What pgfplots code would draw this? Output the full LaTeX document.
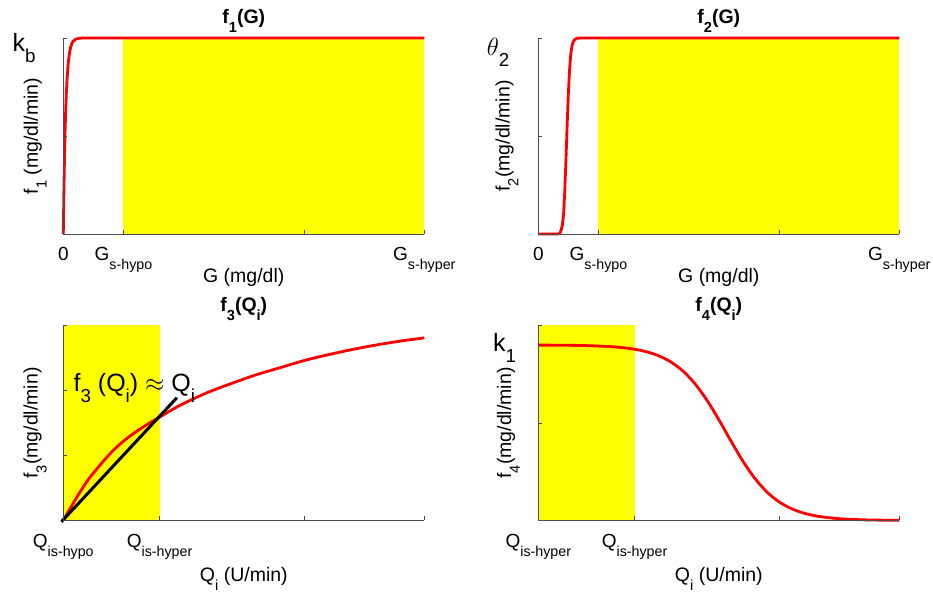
\documentclass[border=0pt]{standalone}
\usepackage{fontspec}
\setmainfont{Liberation Sans}
\usepackage{graphicx}
\usepackage{pgfplots}
\pgfplotsset{compat=1.18}
\definecolor{myyellow}{RGB}{255,255,0}
\definecolor{myred}{RGB}{255,0,0}
\newcommand\sub[1]{\raisebox{-0.45em}{\scalebox{0.75}{#1}}}
\newcommand\tickfont{\fontsize{19}{21}\selectfont}
\newcommand\labfont{\fontsize{19.5}{22}\selectfont}
\newcommand\titfont{\fontsize{19.5}{22}\selectfont\bfseries}
\newcommand\bigfont{\fontsize{25}{29}\selectfont}
\pgfplotsset{
  myax/.style={
    scale only axis, width=361pt, height=195pt,
    axis x line=bottom, axis y line=left,
    axis line style={-, draw=black!70, line width=0.7pt},
    tick align=inside, major tick length=4pt,
    tick style={draw=black!70, line width=0.7pt},
    clip=false, axis on top,
    xticklabel style={font=\tickfont, anchor=base, yshift=-27pt},
    yticklabels={,,,},
    xlabel style={font=\labfont, anchor=base},
    ylabel style={font=\labfont, anchor=center},
    title style={font=\titfont, at={(axis description cs:0.5,1)}, anchor=base, yshift=8pt},
  },
  redc/.style={myred, line width=2.8pt, line join=round},
  yel/.style={fill=myyellow, draw=none},
}
\begin{document}
\begin{tikzpicture}
\path[use as bounding box] (0pt,0pt) rectangle (933pt,596pt);
% f1
\begin{axis}[myax, at={(63.3pt,362pt)}, anchor=south west, height=196pt,
  xmin=0, xmax=300, ymin=0, ymax=1,
  xtick={0,50,200,300}, xticklabels={0,G\sub{s-hypo},,G\sub{s-hyper}},
  ytick={0,0.5,1},
  title={f\sub{1}(G)},
  xlabel={G (mg/dl)}, xlabel style={at={(axis description cs:0.5,-0.248)}},
  ylabel={f\sub{1} (mg/dl/min)}, ylabel style={at={(axis description cs:-0.078,0.5)}},
]
\addplot[yel] coordinates {(50,1) (300,1)} \closedcycle;
\addplot[redc] coordinates {(0,0)(0.5,0.221)(1,0.393)(1.5,0.528)(2,0.632)(2.5,0.713)(3,0.777)(4,0.865)(5,0.918)(6,0.950)(7,0.970)(8,0.982)(10,0.993)(12,0.9975)(15,0.9994)(20,1)(300,1)};
\node[anchor=base west, font=\bigfont, inner sep=0pt] at (axis description cs:-0.141,0.930) {k\sub{b}};
\end{axis}
% f2
\begin{axis}[myax, at={(538.3pt,362pt)}, anchor=south west, height=196pt,
  xmin=0, xmax=300, ymin=0, ymax=1,
  xtick={0,50,200,300}, xticklabels={0,G\sub{s-hypo},,G\sub{s-hyper}},
  ytick={0,0.5,1},
  title={f\sub{2}(G)},
  xlabel={G (mg/dl)}, xlabel style={at={(axis description cs:0.5,-0.248)}},
  ylabel={f\sub{2}(mg/dl/min)}, ylabel style={at={(axis description cs:-0.087,0.5)}},
]
\addplot[yel] coordinates {(50,1) (300,1)} \closedcycle;
\addplot[redc] coordinates {(0,0)(16,0)(17,0.001)(18,0.005)(19,0.02)(20,0.045)(21,0.1)(22,0.22)(23,0.38)(24,0.56)(25,0.72)(26,0.84)(27,0.92)(28,0.96)(29,0.98)(30,0.99)(32,0.998)(35,1)(300,1)};
\node[anchor=base west, font=\bigfont, inner sep=0pt] at (axis description cs:-0.143,0.913) {$\theta$\sub{2}};
\end{axis}
% f3
\begin{axis}[myax, at={(63.3pt,75.5pt)}, anchor=south west,
  xmin=0, xmax=15, ymin=0, ymax=3,
  xtick={0,4,10,15}, xticklabels={Q\sub{is-hypo},Q\sub{is-hyper},,},
  ytick={0,1,2,3},
  title={f\sub{3}(Q\sub{i})},
  xlabel={Q\sub{i} (U/min)}, xlabel style={at={(axis description cs:0.5,-0.314)}},
  ylabel={f\sub{3}(mg/dl/min)}, ylabel style={at={(axis description cs:-0.078,0.5)}},
]
\addplot[yel] coordinates {(0,3) (4,3)} \closedcycle;
\addplot[redc, smooth] coordinates {(0,0)(0.5,0.32)(1,0.61)(1.5,0.84)(2,1.05)(2.5,1.22)(3,1.36)(3.5,1.48)(4,1.59)(4.5,1.70)(5,1.80)(6,1.97)(7,2.11)(8,2.24)(9,2.35)(10,2.46)(11,2.55)(12,2.63)(13,2.70)(14,2.76)(15,2.81)};
\addplot[black, line width=3pt] coordinates {(-0.08,-0.02) (4.72,1.89)};
\node[anchor=base west, font=\bigfont, inner sep=0pt] at (axis cs:0.42,1.99) {f\sub{3} (Q\sub{i}) $\approx$ Q\sub{i}};
\end{axis}
% f4
\begin{axis}[myax, at={(538.3pt,75.5pt)}, anchor=south west,
  xmin=0, xmax=15, ymin=0, ymax=1,
  xtick={0,4,10,15}, xticklabels={Q\sub{is-hyper},Q\sub{is-hyper},,},
  ytick={0,0.5,1},
  title={f\sub{4}(Q\sub{i})},
  xlabel={Q\sub{i} (U/min)}, xlabel style={at={(axis description cs:0.5,-0.314)}},
  ylabel={f\sub{4}(mg/dl/min)}, ylabel style={at={(axis description cs:-0.083,0.5)}},
]
\addplot[yel] coordinates {(0,1) (4,1)} \closedcycle;
\addplot[redc, smooth] coordinates {(0,0.8995)(1,0.8988)(2,0.8968)(3,0.8916)(3.5,0.8865)(4,0.8783)(4.5,0.8652)(5,0.8448)(5.5,0.8137)(6,0.7676)(6.5,0.7030)(7,0.6183)(7.5,0.5172)(8,0.4086)(8.5,0.3047)(9,0.2156)(9.5,0.1461)(10,0.0959)(10.5,0.0616)(11,0.0389)(11.5,0.0243)(12,0.0151)(12.5,0.0094)(13,0.0058)(13.5,0.0036)(14,0.0022)(15,0.0008)};
\node[anchor=base west, font=\bigfont, inner sep=0pt] at (axis description cs:-0.126,0.867) {k\sub{1}};
\end{axis}
\end{tikzpicture}
\end{document}
